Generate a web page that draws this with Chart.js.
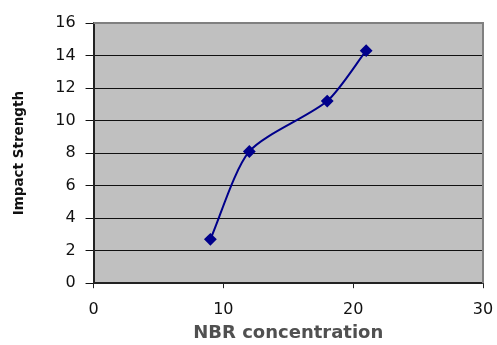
<!DOCTYPE html>
<html>
<head>
<meta charset="utf-8">
<script src="https://cdn.jsdelivr.net/npm/chart.js@4/dist/chart.umd.min.js"></script>
<style>
  html, body { margin: 0; padding: 0; background: #ffffff; }
  #wrap { width: 497px; height: 345px; }
</style>
</head>
<body>
<div id="wrap"><canvas id="c" width="497" height="345"></canvas></div>
<script>
// NBR concentration vs. impact strength
const nbrConcentration = [9, 12, 18, 21];
const impactStrength = [2.7, 8.1, 11.2, 14.3];
const yTicks = [0, 2, 4, 6, 8, 10, 12, 14, 16];
const xTicks = [0, 10, 20, 30];

const points = nbrConcentration.map((x, i) => ({ x: x, y: impactStrength[i] }));

// Grey plot-area fill with a lighter frame on top and right
const plotFrame = {
  id: 'plotFrame',
  beforeDraw(chart) {
    const { ctx, chartArea: a } = chart;
    ctx.save();
    ctx.fillStyle = '#c0c0c0';
    ctx.fillRect(a.left, a.top, a.right - a.left, a.bottom - a.top);
    ctx.restore();
  },
  beforeDatasetsDraw(chart) {
    const { ctx, chartArea: a } = chart;
    ctx.save();
    ctx.strokeStyle = '#808080';
    ctx.lineWidth = 2;
    ctx.beginPath();
    ctx.moveTo(a.left, a.top);
    ctx.lineTo(a.right, a.top);
    ctx.lineTo(a.right, a.bottom);
    ctx.stroke();
    ctx.restore();
  }
};

new Chart(document.getElementById('c'), {
  type: 'scatter',
  data: {
    datasets: [{
      data: points,
      showLine: true,
      borderColor: '#00008b',
      backgroundColor: '#00008b',
      borderWidth: 2,
      tension: 0.25,
      pointStyle: 'rectRot',
      pointRadius: 5,
      pointHoverRadius: 5
    }]
  },
  options: {
    responsive: false,
    animation: false,
    events: [],
    layout: { padding: { top: 23, right: 14, left: 11, bottom: 1 } },
    plugins: { legend: { display: false }, tooltip: { enabled: false } },
    scales: {
      x: {
        type: 'linear',
        min: 0, max: 30,
        afterBuildTicks(axis) { axis.ticks = xTicks.map(v => ({ value: v })); },
        // let the last tick label hang into the right margin
        afterFit(axis) { axis.paddingRight = 0; },
        grid: { drawOnChartArea: false, drawTicks: true, tickLength: 5, color: '#222', lineWidth: 1 },
        border: { color: '#222', width: 2 },
        ticks: { font: { family: 'DejaVu Sans', size: 16 }, color: '#111', padding: 12, maxRotation: 0 },
        title: {
          display: true, text: 'NBR concentration',
          font: { family: 'DejaVu Sans', size: 18, weight: 'bold' },
          color: '#505050', padding: { top: -9, bottom: 0 }
        }
      },
      y: {
        type: 'linear',
        min: 0, max: 16,
        afterBuildTicks(axis) { axis.ticks = yTicks.map(v => ({ value: v })); },
        grid: { drawOnChartArea: true, drawTicks: true, tickLength: 8, color: '#111', lineWidth: 1 },
        border: { color: '#222', width: 2 },
        ticks: { font: { family: 'DejaVu Sans', size: 16 }, color: '#111', padding: 10 },
        title: {
          display: true, text: 'Impact Strength',
          font: { family: 'DejaVu Sans', size: 13.5, weight: 'bold' },
          color: '#111', padding: { top: 0, bottom: 18 }
        }
      }
    }
  },
  plugins: [plotFrame]
});
</script>
</body>
</html>
